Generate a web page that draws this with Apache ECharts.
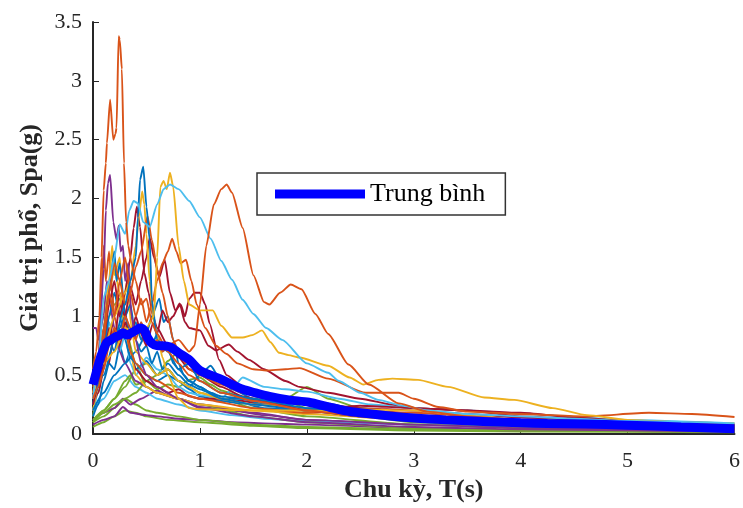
<!DOCTYPE html>
<html><head><meta charset="utf-8">
<script src="https://cdn.jsdelivr.net/npm/echarts@6/dist/echarts.min.js"></script>
<style>html,body{margin:0;padding:0;background:#fff}#c{width:743px;height:508px}</style>
</head><body><div id="c"></div>
<script>
// Axis ticks
const xTicks = [0,1,2,3,4,5,6];
const yTicks = [0,0.5,1,1.5,2,2.5,3,3.5];
const xTitle = 'Chu kỳ, T(s)';
const yTitle = 'Giá trị phổ, Spa(g)';
const meanName = 'Trung bình';

// Records: [period T (s), Sa (g)]
const recG6 = [[0,0.06],[0.1,0.1],[0.2,0.15],[0.3,0.2],[0.4,0.18],[0.5,0.15],[0.7,0.12],[1.0,0.1],[1.5,0.07],[2.0,0.05],[3.0,0.03],[4.0,0.02],[6.0,0.015]];
const recP2 = [[0,0.08],[0.1,0.12],[0.2,0.15],[0.28,0.23],[0.35,0.18],[0.5,0.16],[0.6,0.15],[0.8,0.13],[1.0,0.12],[1.3,0.1],[1.6,0.09],[2.0,0.08],[3.0,0.05],[4.0,0.03],[6.0,0.02]];
const recG3 = [[0,0.1],[0.1,0.15],[0.2,0.22],[0.3,0.3],[0.4,0.25],[0.5,0.2],[0.6,0.18],[0.8,0.15],[1.0,0.12],[1.5,0.08],[2.0,0.06],[3.0,0.04],[4.0,0.03],[6.0,0.02]];
const recPB = [[0,0.12],[0.1,0.18],[0.2,0.22],[0.28,0.3],[0.35,0.25],[0.45,0.3],[0.6,0.37],[0.7,0.33],[0.8,0.3],[1.0,0.23],[1.3,0.2],[1.6,0.16],[2.0,0.12],[2.5,0.1],[3.0,0.08],[4.0,0.06],[5.0,0.05],[6.0,0.04]];
const recL4 = [[0,0.2],[0.1,0.3],[0.2,0.45],[0.3,0.5],[0.4,0.4],[0.5,0.35],[0.6,0.3],[0.8,0.25],[1.0,0.2],[1.3,0.16],[1.6,0.13],[2.0,0.11],[3.0,0.08],[4.0,0.06],[6.0,0.05]];
const recG1 = [[0,0.1],[0.1,0.2],[0.2,0.3],[0.3,0.4],[0.4,0.55],[0.5,0.6],[0.6,0.5],[0.7,0.55],[0.8,0.45],[0.9,0.4],[1.0,0.35],[1.2,0.3],[1.5,0.22],[2.0,0.15],[3.0,0.08],[4.0,0.05],[6.0,0.03]];
const recG5 = [[0,0.1],[0.1,0.18],[0.2,0.25],[0.3,0.3],[0.4,0.35],[0.5,0.45],[0.6,0.5],[0.7,0.62],[0.8,0.7],[0.9,0.6],[1.0,0.55],[1.1,0.52],[1.2,0.45],[1.4,0.38],[1.6,0.32],[1.8,0.28],[2.0,0.22],[2.5,0.15],[3.0,0.1],[4.0,0.06],[5.0,0.04],[6.0,0.03]];
const recG2 = [[0,0.12],[0.1,0.2],[0.2,0.3],[0.3,0.45],[0.35,0.5],[0.4,0.42],[0.5,0.45],[0.6,0.38],[0.7,0.42],[0.8,0.4],[0.9,0.46],[1.0,0.48],[1.1,0.42],[1.2,0.37],[1.4,0.31],[1.6,0.28],[1.8,0.3],[2.0,0.4],[2.2,0.3],[2.5,0.22],[3.0,0.15],[3.5,0.1],[4.0,0.07],[5.0,0.04],[6.0,0.03]];
const recG4 = [[0,0.15],[0.05,0.4],[0.1,0.75],[0.12,0.9],[0.15,1.0],[0.2,1.1],[0.25,1.15],[0.3,0.9],[0.4,0.6],[0.5,0.4],[0.6,0.35],[0.8,0.3],[1.0,0.25],[1.5,0.15],[2.0,0.1],[3.0,0.05],[4.0,0.03],[6.0,0.02]];
const recB1 = [[0,0.15],[0.05,0.25],[0.1,0.45],[0.15,0.6],[0.2,0.55],[0.25,0.75],[0.3,0.6],[0.35,0.7],[0.4,0.55],[0.5,0.62],[0.6,0.5],[0.7,0.55],[0.8,0.45],[0.9,0.38],[1.0,0.32],[1.2,0.28],[1.4,0.26],[1.6,0.22],[2.0,0.2],[2.5,0.16],[3.0,0.13],[4.0,0.09],[5.0,0.07],[6.0,0.05]];
const recL2 = [[0,0.2],[0.05,0.35],[0.1,0.6],[0.15,0.95],[0.2,0.8],[0.25,0.7],[0.3,0.85],[0.35,0.6],[0.4,0.5],[0.5,0.65],[0.6,0.55],[0.7,0.5],[0.8,0.4],[0.9,0.35],[1.0,0.33],[1.2,0.3],[1.3,0.38],[1.4,0.48],[1.6,0.4],[1.8,0.38],[2.0,0.36],[2.3,0.3],[2.6,0.25],[3.0,0.22],[3.5,0.2],[4.0,0.17],[5.0,0.12],[6.0,0.09]];
const recR4 = [[0,0.25],[0.05,0.35],[0.1,0.55],[0.15,0.8],[0.2,1.0],[0.25,1.2],[0.3,1.05],[0.35,0.7],[0.4,0.55],[0.5,0.45],[0.6,0.4],[0.7,0.35],[0.8,0.38],[0.9,0.32],[1.0,0.3],[1.2,0.3],[1.4,0.28],[1.6,0.25],[2.0,0.2],[2.5,0.24],[3.0,0.22],[3.5,0.2],[4.0,0.15],[5.0,0.1],[6.0,0.06]];
const recPC = [[0,0.9],[0.03,0.9],[0.05,0.8],[0.1,1.0],[0.13,1.3],[0.16,1.1],[0.2,0.9],[0.25,0.7],[0.3,0.6],[0.4,0.45],[0.5,0.4],[0.6,0.35],[0.8,0.3],[1.0,0.25],[1.5,0.18],[2.0,0.12],[3.0,0.08],[4.0,0.05],[6.0,0.03]];
const recYC = [[0,0.2],[0.05,0.4],[0.1,0.8],[0.15,1.2],[0.2,1.4],[0.25,1.2],[0.3,0.9],[0.35,0.7],[0.4,0.5],[0.5,0.4],[0.6,0.35],[0.8,0.3],[1.0,0.25],[1.5,0.2],[2.0,0.17],[3.0,0.12],[4.0,0.1],[5.0,0.08],[6.0,0.07]];
const recB2 = [[0,0.3],[0.05,0.4],[0.1,0.6],[0.15,0.8],[0.2,0.7],[0.25,0.9],[0.3,1.0],[0.35,0.85],[0.4,0.95],[0.45,0.8],[0.5,0.9],[0.55,0.75],[0.6,0.85],[0.65,0.7],[0.7,0.75],[0.75,0.6],[0.8,0.55],[0.9,0.45],[1.0,0.4],[1.1,0.35],[1.2,0.32],[1.4,0.3],[1.6,0.27],[1.8,0.25],[2.0,0.28],[2.2,0.26],[2.5,0.2],[3.0,0.15],[3.5,0.13],[4.0,0.11],[5.0,0.09],[6.0,0.07]];
const recB3 = [[0,0.35],[0.1,0.7],[0.15,1.0],[0.2,1.2],[0.25,1.0],[0.3,0.8],[0.35,0.65],[0.4,0.6],[0.5,0.5],[0.6,0.45],[0.7,0.5],[0.8,0.45],[0.9,0.4],[1.0,0.5],[1.1,0.58],[1.2,0.45],[1.3,0.38],[1.5,0.3],[1.7,0.25],[2.0,0.22],[2.5,0.2],[3.0,0.16],[4.0,0.1],[5.0,0.08],[6.0,0.06]];
const recB5 = [[0,0.2],[0.1,0.35],[0.2,0.5],[0.3,0.6],[0.4,0.7],[0.5,0.85],[0.55,1.0],[0.62,1.15],[0.66,0.95],[0.7,1.0],[0.75,0.8],[0.8,0.6],[0.85,0.5],[0.9,0.45],[1.0,0.4],[1.1,0.35],[1.2,0.3],[1.4,0.3],[1.6,0.25],[2.0,0.2],[2.5,0.15],[3.0,0.12],[4.0,0.08],[5.0,0.06],[6.0,0.05]];
const recOE = [[0,0.35],[0.05,0.6],[0.08,1.2],[0.1,1.6],[0.12,1.3],[0.15,1.55],[0.18,1.2],[0.2,1.0],[0.25,0.8],[0.3,0.9],[0.35,0.7],[0.4,0.6],[0.5,0.5],[0.6,0.45],[0.8,0.35],[1.0,0.3],[1.5,0.22],[2.0,0.18],[2.5,0.2],[3.0,0.18],[4.0,0.12],[5.0,0.09],[6.0,0.07]];
const recYD = [[0,0.3],[0.05,0.5],[0.1,0.9],[0.15,1.3],[0.18,1.6],[0.2,1.35],[0.25,1.5],[0.28,1.1],[0.32,1.3],[0.36,0.9],[0.4,0.7],[0.5,0.6],[0.6,0.5],[0.7,0.55],[0.8,0.45],[0.9,0.4],[1.0,0.35],[1.2,0.3],[1.5,0.25],[2.0,0.22],[2.5,0.2],[3.0,0.16],[4.0,0.11],[5.0,0.08],[6.0,0.06]];
const recB4 = [[0,0.25],[0.05,0.5],[0.1,0.9],[0.15,1.2],[0.2,1.55],[0.22,1.3],[0.25,1.45],[0.3,1.0],[0.35,1.1],[0.4,0.8],[0.45,0.7],[0.5,0.75],[0.55,0.6],[0.6,0.7],[0.65,0.55],[0.7,0.6],[0.8,0.5],[0.9,0.42],[1.0,0.38],[1.2,0.3],[1.5,0.25],[2.0,0.2],[2.5,0.17],[3.0,0.14],[4.0,0.1],[5.0,0.08],[6.0,0.06]];
const recR3 = [[0,0.3],[0.05,0.45],[0.1,0.7],[0.15,0.6],[0.2,0.9],[0.25,0.75],[0.3,0.95],[0.35,0.8],[0.4,1.0],[0.45,0.85],[0.5,0.75],[0.56,0.94],[0.6,0.85],[0.65,1.05],[0.7,0.95],[0.75,1.0],[0.81,1.11],[0.86,0.95],[0.9,0.9],[1.0,0.88],[1.08,0.75],[1.15,0.71],[1.27,0.76],[1.35,0.7],[1.46,0.63],[1.6,0.55],[1.8,0.45],[1.93,0.4],[2.2,0.35],[2.5,0.3],[2.8,0.25],[3.0,0.22],[3.5,0.2],[4.0,0.18],[4.5,0.14],[5.0,0.11],[5.5,0.1],[6.0,0.08]];
const recR2 = [[0,0.25],[0.05,0.4],[0.1,0.6],[0.15,0.9],[0.2,0.8],[0.25,1.1],[0.3,1.0],[0.35,1.25],[0.4,1.1],[0.45,1.3],[0.5,1.5],[0.53,1.67],[0.57,1.5],[0.62,1.33],[0.67,1.48],[0.72,1.2],[0.77,1.05],[0.82,1.1],[0.86,1.0],[0.9,1.15],[0.95,1.2],[1.0,1.2],[1.05,1.1],[1.09,0.94],[1.18,0.63],[1.25,0.5],[1.4,0.4],[1.6,0.35],[1.8,0.3],[2.0,0.27],[2.5,0.22],[3.0,0.2],[3.5,0.17],[4.0,0.14],[5.0,0.1],[6.0,0.07]];
const recR1 = [[0,0.35],[0.05,0.5],[0.1,0.8],[0.15,1.1],[0.2,1.3],[0.25,1.0],[0.3,1.2],[0.35,1.5],[0.38,1.75],[0.41,1.93],[0.44,1.76],[0.48,1.37],[0.52,1.2],[0.56,1.0],[0.6,0.9],[0.7,0.75],[0.8,0.65],[0.9,0.55],[1.0,0.5],[1.2,0.4],[1.4,0.32],[1.6,0.28],[2.0,0.2],[2.5,0.15],[3.0,0.12],[4.0,0.08],[5.0,0.06],[6.0,0.04]];
const recPA = [[0,0.3],[0.05,0.6],[0.1,1.4],[0.12,1.9],[0.14,2.13],[0.16,2.2],[0.19,1.8],[0.22,1.65],[0.24,1.77],[0.26,1.55],[0.28,1.6],[0.3,1.3],[0.33,1.45],[0.36,1.0],[0.4,0.8],[0.45,0.6],[0.5,0.5],[0.6,0.4],[0.8,0.3],[1.0,0.22],[1.5,0.15],[2.0,0.1],[3.0,0.06],[4.0,0.04],[6.0,0.02]];
const recYB = [[0,0.3],[0.1,0.7],[0.2,1.0],[0.3,1.2],[0.35,1.3],[0.4,1.6],[0.43,1.85],[0.46,2.06],[0.48,1.95],[0.5,1.7],[0.53,1.3],[0.56,1.0],[0.6,0.85],[0.65,0.65],[0.7,0.5],[0.8,0.3],[0.9,0.22],[1.0,0.21],[1.5,0.2],[2.0,0.2],[2.3,0.19],[2.5,0.21],[3.0,0.2],[3.5,0.16],[4.0,0.12],[5.0,0.09],[6.0,0.07]];
const recOD = [[0,0.4],[0.05,0.5],[0.1,0.8],[0.15,1.2],[0.2,1.0],[0.25,1.3],[0.3,1.1],[0.35,1.2],[0.4,1.42],[0.45,1.55],[0.51,1.85],[0.55,1.65],[0.6,1.4],[0.65,1.2],[0.7,1.0],[0.75,0.8],[0.8,0.7],[0.9,0.55],[1.0,0.5],[1.2,0.42],[1.4,0.35],[1.6,0.3],[2.0,0.25],[2.5,0.2],[3.0,0.15],[4.0,0.1],[5.0,0.07],[6.0,0.05]];
const recOC = [[0,0.45],[0.05,0.6],[0.1,0.9],[0.15,1.2],[0.2,1.45],[0.25,1.3],[0.3,1.5],[0.35,1.2],[0.4,1.0],[0.45,1.15],[0.5,0.95],[0.55,1.1],[0.6,1.3],[0.65,1.45],[0.7,1.55],[0.74,1.66],[0.78,1.55],[0.82,1.45],[0.87,1.48],[0.92,1.3],[0.97,1.1],[1.05,0.9],[1.15,0.75],[1.25,0.68],[1.35,0.6],[1.5,0.55],[1.62,0.54],[1.8,0.55],[1.93,0.56],[2.2,0.47],[2.55,0.35],[2.86,0.35],[3.0,0.3],[3.23,0.23],[3.5,0.19],[4.0,0.17],[4.6,0.15],[5.2,0.18],[5.6,0.17],[6.0,0.145]];
const recB6 = [[0,0.3],[0.1,0.5],[0.2,0.8],[0.3,1.1],[0.35,1.3],[0.4,1.5],[0.42,1.84],[0.44,2.16],[0.47,2.27],[0.5,1.93],[0.53,1.65],[0.55,1.14],[0.6,0.8],[0.7,0.7],[0.8,0.55],[0.9,0.6],[1.0,0.45],[1.2,0.35],[1.5,0.3],[2.0,0.22],[2.5,0.18],[3.0,0.15],[4.0,0.1],[5.0,0.07],[6.0,0.05]];
const recYA = [[0,0.35],[0.1,0.6],[0.2,0.7],[0.3,0.9],[0.4,0.85],[0.5,0.9],[0.57,1.0],[0.6,1.5],[0.63,2.1],[0.66,2.15],[0.69,2.08],[0.72,2.22],[0.75,2.1],[0.8,1.6],[0.85,1.3],[0.9,1.1],[1.0,1.05],[1.12,1.05],[1.2,0.92],[1.3,0.82],[1.4,0.82],[1.49,0.84],[1.58,0.88],[1.66,0.78],[1.74,0.69],[1.83,0.67],[1.93,0.65],[2.2,0.58],[2.4,0.48],[2.53,0.42],[2.67,0.46],[2.8,0.47],[3.04,0.46],[3.32,0.4],[3.66,0.31],[3.94,0.29],[4.3,0.22],[4.62,0.16],[5.0,0.12],[5.5,0.1],[6.0,0.09]];
const recL1 = [[0,0.3],[0.05,0.6],[0.1,1.16],[0.15,1.3],[0.2,1.5],[0.25,1.78],[0.3,1.7],[0.34,1.9],[0.38,1.98],[0.42,1.96],[0.47,1.8],[0.53,1.76],[0.6,1.95],[0.66,2.08],[0.72,2.12],[0.8,2.08],[0.9,1.98],[1.0,1.84],[1.1,1.66],[1.2,1.47],[1.3,1.31],[1.4,1.14],[1.5,1.02],[1.62,0.9],[1.77,0.8],[2.0,0.6],[2.2,0.52],[2.3,0.45],[2.5,0.35],[2.67,0.29],[2.9,0.24],[3.13,0.2],[3.5,0.17],[4.0,0.15],[4.5,0.13],[5.0,0.11],[6.0,0.09]];
const recOB = [[0,0.3],[0.05,0.4],[0.1,0.55],[0.15,0.75],[0.2,0.9],[0.25,0.8],[0.3,1.0],[0.35,0.9],[0.4,0.8],[0.45,0.95],[0.5,0.85],[0.55,0.75],[0.6,0.8],[0.65,0.7],[0.7,0.75],[0.8,0.8],[0.9,0.7],[0.95,0.75],[1.0,1.1],[1.06,1.6],[1.13,1.95],[1.2,2.08],[1.25,2.12],[1.3,2.05],[1.4,1.75],[1.5,1.35],[1.6,1.12],[1.65,1.1],[1.75,1.2],[1.85,1.27],[1.95,1.23],[2.08,1.02],[2.2,0.85],[2.39,0.59],[2.58,0.42],[2.86,0.26],[3.13,0.19],[3.5,0.15],[4.0,0.12],[5.0,0.08],[6.0,0.06]];
const recOA = [[0,0.55],[0.03,0.7],[0.06,1.0],[0.08,1.5],[0.1,2.07],[0.12,2.3],[0.13,2.47],[0.16,2.84],[0.19,2.5],[0.21,2.55],[0.22,2.6],[0.24,3.38],[0.25,3.35],[0.27,3.1],[0.29,2.3],[0.31,1.8],[0.33,1.6],[0.36,1.45],[0.4,1.3],[0.45,1.1],[0.5,1.15],[0.55,0.95],[0.6,0.85],[0.7,0.7],[0.8,0.6],[0.9,0.5],[1.0,0.45],[1.2,0.35],[1.5,0.28],[2.0,0.2],[2.5,0.15],[3.0,0.12],[4.0,0.08],[5.0,0.06],[6.0,0.04]];
const recMean = [[0,0.42],[0.03,0.52],[0.07,0.65],[0.1,0.72],[0.13,0.78],[0.17,0.8],[0.2,0.82],[0.25,0.84],[0.28,0.86],[0.32,0.84],[0.36,0.86],[0.4,0.88],[0.44,0.9],[0.48,0.88],[0.51,0.82],[0.55,0.77],[0.6,0.75],[0.65,0.75],[0.72,0.74],[0.8,0.69],[0.9,0.63],[1.0,0.54],[1.1,0.5],[1.21,0.46],[1.3,0.42],[1.4,0.38],[1.52,0.35],[1.65,0.32],[1.83,0.29],[2.02,0.27],[2.2,0.23],[2.35,0.2],[2.5,0.18],[2.8,0.15],[3.0,0.135],[3.3,0.12],[3.7,0.105],[4.0,0.095],[4.25,0.09],[4.6,0.085],[5.0,0.075],[5.5,0.06],[6.0,0.045]];

const C = {blue:'#0072BD', orange:'#D95319', yellow:'#EDB120', purple:'#7E2F8E', green:'#77AC30', lblue:'#4DBEEE', dred:'#A2142F'};
const records = [
  [recG6,C.green],[recP2,C.purple],[recG3,C.green],[recPB,C.purple],[recL4,C.lblue],
  [recG1,C.green],[recG5,C.green],[recG2,C.green],[recG4,C.green],[recB1,C.blue],
  [recL2,C.lblue],[recR4,C.dred],[recPC,C.purple],[recYC,C.yellow],[recB2,C.blue],
  [recB3,C.blue],[recB5,C.blue],[recOE,C.orange],[recYD,C.yellow],[recB4,C.blue],
  [recR3,C.dred],[recR2,C.dred],[recR1,C.dred],[recPA,C.purple],[recYB,C.yellow],
  [recOD,C.orange],[recOC,C.orange],[recB6,C.blue],[recYA,C.yellow],[recL1,C.lblue],
  [recOB,C.orange],[recOA,C.orange]
];

const font = 'Liberation Serif, Times New Roman, serif';
const series = records.map((r,i)=>({
  type:'line', name:'r'+i, data:r[0], showSymbol:false, smooth:0.2, smoothMonotone:'x',
  lineStyle:{color:r[1], width:1.9}, itemStyle:{color:r[1]}, silent:true, z:2
}));
series.push({type:'line', name:meanName, data:recMean, showSymbol:false, smooth:0.3,
  lineStyle:{color:'#0000FF', width:9}, itemStyle:{color:'#0000FF'}, silent:true, z:3});

const chart = echarts.init(document.getElementById('c'), null, {renderer:'canvas'});
chart.setOption({
  animation:false,
  backgroundColor:'#fff',
  grid:{left:93, right:5, top:22, bottom:74, containLabel:false},
  legend:{data:[meanName], left:257, top:173, padding:[8,20,8,18], icon:'rect',
    itemWidth:90, itemHeight:9, borderColor:'#333', borderWidth:1.5, backgroundColor:'#fff',
    textStyle:{fontFamily:font, fontSize:26, color:'#000'}, selectedMode:false},
  xAxis:{type:'value', min:0, max:6, interval:1, name:xTitle, nameLocation:'middle', nameGap:37,
    nameTextStyle:{fontFamily:font, fontSize:26, fontWeight:'bold', color:'#262626'},
    axisLine:{lineStyle:{color:'#262626', width:2}}, axisTick:{inside:true, length:6, lineStyle:{color:'#262626'}},
    axisLabel:{fontFamily:font, fontSize:22, color:'#262626', margin:16, formatter:v=>xTicks.includes(v)?String(v):''},
    splitLine:{show:false}},
  yAxis:{type:'value', min:0, max:3.5, interval:0.5, name:yTitle, nameLocation:'middle', nameGap:49,
    nameTextStyle:{fontFamily:font, fontSize:26, fontWeight:'bold', color:'#262626'},
    axisLine:{show:true, lineStyle:{color:'#262626', width:2}}, axisTick:{show:true, inside:true, length:6, lineStyle:{color:'#262626'}},
    axisLabel:{fontFamily:font, fontSize:22, color:'#262626', margin:11, formatter:v=>yTicks.includes(v)?String(v):''},
    splitLine:{show:false}},
  series:series
});
</script></body></html>
